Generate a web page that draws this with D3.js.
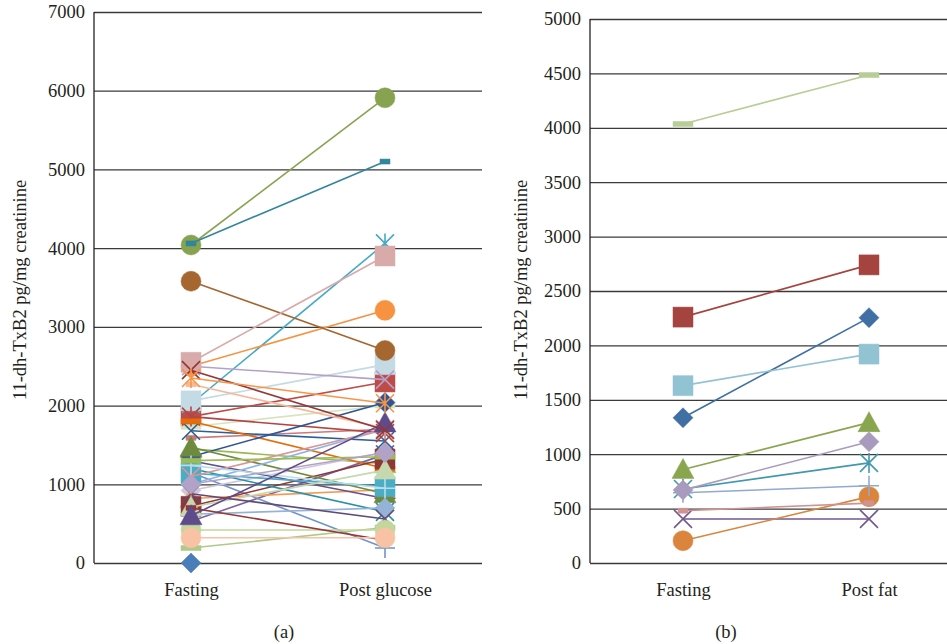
<!DOCTYPE html>
<html>
<head>
<meta charset="utf-8">
<script src="https://cdn.jsdelivr.net/npm/d3@7"></script>
<style>
  body { margin: 0; background: #fff; }
  text { font-family: "Liberation Serif", "DejaVu Serif", serif; fill: #231f20; }
</style>
</head>
<body>
<svg id="chart" width="947" height="644"></svg>
<script>
// ---- panel (a): fasting vs post glucose ----
const categoriesA = ["Fasting", "Post glucose"];
const fastingA = [0, 1860, 1450, 530, 2020, 2500, 1150, 1590, 1730, 920,
                  2060, 820, 1680, 1860, 4040, 1300, 4060, 1800, 1350, 720,
                  1470, 2500, 1200, 3580, 1000, 2270, 190, 620, 1140, 710,
                  880, 1100, 420, 1240, 700, 1300, 1000, 2550, 600, 2450,
                  2350, 320];
const postA = [null, 2300, 1260, 1380, 4060, 3210, 190, 1700, 2000, 1410,
               2520, 930, 1550, 1650, 5910, 820, 5100, 1200, 2040, 1320,
               880, 2330, 650, 2700, 1700, 1710, 450, 700, 970, 1180,
               560, 1700, 420, 950, 290, 1350, 1400, 3900, 1780, 1690,
               2030, 320];
const ticksA = [0, 1000, 2000, 3000, 4000, 5000, 6000, 7000];

// ---- panel (b): fasting vs post fat ----
const categoriesB = ["Fasting", "Post fat"];
const fastingB = [1335, 2260, 860, 405, 680, 205, 645, 480, 4035, 670, 1630];
const postB = [2255, 2740, 1290, 405, 920, 610, 710, 550, 4485, 1115, 1920];
const ticksB = [0, 500, 1000, 1500, 2000, 2500, 3000, 3500, 4000, 4500, 5000];

const yTitle = "11-dh-TxB2 pg/mg creatinine";

// Excel style marker cycle, colours per series
const markerCycle = ["diamond", "square", "triangle", "x", "star", "circle", "plus", "dash", "longdash"];
const coloursA = ["#4a7ebb", "#be4b48", "#98b954", "#7d60a0", "#46aac5", "#f69240", "#7094c8", "#cc7a78", "#d7e4bd",
                  "#cdc6dd", "#c4dae4", "#f59a52", "#2c5e97", "#b34643", "#87a34f", "#64508a", "#31859c", "#e46c0a",
                  "#2f5597", "#8c3836", "#6e8b3d", "#b3a2c7", "#2b8fa8", "#a5672f", "#8eb4e3", "#f6b89a", "#aec98a",
                  "#95b3d7", "#4bacc6", "#c6d8ae", "#604a7b", "#d99694", "#c3d69b", "#b7dee8", "#953735", "#9bbb59",
                  "#b3a2c7", "#d8aaa9", "#5f4b8b", "#953735", "#f79646", "#f8c2a5"];
const coloursB = ["#3f6fa3", "#a5443f", "#89a54e", "#71588f", "#4198af", "#db843d", "#93a9cf", "#d19392", "#b9cd96",
                  "#a99bbd", "#92c3d3"];

const svg = d3.select("#chart");
const baseY = 563;

function markerPath(type) {
  const p = d3.path();
  if (type === "diamond") { p.moveTo(0, -10); p.lineTo(10, 0); p.lineTo(0, 10); p.lineTo(-10, 0); p.closePath(); }
  else if (type === "square") { p.rect(-10, -10, 20, 20); }
  else if (type === "triangle") { p.moveTo(0, -11); p.lineTo(11, 9); p.lineTo(-11, 9); p.closePath(); }
  else if (type === "circle") { p.arc(0, 0, 10, 0, 2 * Math.PI); }
  else if (type === "dash") { p.rect(-5, -2.5, 10, 5); }
  else if (type === "longdash") { p.rect(-10, -2.5, 20, 5); }
  else if (type === "x") { p.moveTo(-9, -9); p.lineTo(9, 9); p.moveTo(9, -9); p.lineTo(-9, 9); }
  else if (type === "star") { p.moveTo(-9, -9); p.lineTo(9, 9); p.moveTo(9, -9); p.lineTo(-9, 9); p.moveTo(0, -10); p.lineTo(0, 10); }
  else if (type === "plus") { p.moveTo(0, -10); p.lineTo(0, 10); p.moveTo(-10, 0); p.lineTo(10, 0); }
  return p.toString();
}
const stroked = t => t === "x" || t === "star" || t === "plus";

function drawPanel(o) {
  const x = d3.scalePoint().domain(o.categories).range([o.left, o.right]).padding(0.5);
  const y = d3.scaleLinear().domain([0, o.max]).range([baseY, o.top]);
  const g = svg.append("g");

  // gridlines + tick labels
  g.append("g")
    .attr("transform", `translate(${o.left},0)`)
    .call(d3.axisLeft(y).tickValues(o.ticks).tickSize(-(o.right - o.left)).tickPadding(9).tickFormat(d3.format("d")))
    .call(a => a.select(".domain").remove())
    .call(a => a.selectAll("line").attr("stroke", "#3a3a3a").attr("stroke-width", 1.3))
    .call(a => a.selectAll("text").attr("font-size", 18.5).attr("font-family", null).attr("fill", null));

  // vertical axis line
  g.append("line")
    .attr("x1", o.left).attr("x2", o.left)
    .attr("y1", o.top).attr("y2", baseY)
    .attr("stroke", "#222").attr("stroke-width", 1.3);

  // category labels
  g.append("g")
    .attr("transform", `translate(0,${baseY})`)
    .call(d3.axisBottom(x).tickSize(0).tickPadding(20))
    .call(a => a.select(".domain").remove())
    .call(a => a.selectAll("text").attr("font-size", 18.5).attr("font-family", null).attr("fill", null));

  // y title
  g.append("text")
    .attr("transform", `translate(${o.titleX},${o.titleY}) rotate(-90)`)
    .attr("text-anchor", "middle")
    .attr("dy", "0.35em")
    .attr("font-size", 18.5)
    .text(yTitle);

  // panel letter
  g.append("text")
    .attr("x", o.letterX).attr("y", 638)
    .attr("text-anchor", "middle")
    .attr("font-size", 18.5)
    .text(o.letter);

  const line = d3.line().x(d => x(d.c)).y(d => y(d.v));

  o.fasting.forEach((f, i) => {
    const pts = [f, o.post[i]]
      .map((v, j) => ({ c: o.categories[j], v: v }))
      .filter(d => d.v != null);
    const col = o.colours[i];
    const type = markerCycle[i % markerCycle.length];
    const s = g.append("g");
    s.append("path").datum(pts)
      .attr("d", line)
      .attr("fill", "none")
      .attr("stroke", col)
      .attr("stroke-width", 1.6);
    s.selectAll(null).data(pts).enter().append("path")
      .attr("transform", d => `translate(${x(d.c)},${y(d.v)})`)
      .attr("d", markerPath(type))
      .attr("fill", stroked(type) ? "none" : col)
      .attr("stroke", col)
      .attr("stroke-width", stroked(type) ? 1.6 : 0.5);
  });
}

drawPanel({
  categories: categoriesA, fasting: fastingA, post: postA, colours: coloursA,
  ticks: ticksA, max: 7000, left: 94, right: 482, top: 12,
  titleX: 20, titleY: 290, letter: "(a)", letterX: 284
});

drawPanel({
  categories: categoriesB, fasting: fastingB, post: postB, colours: coloursB,
  ticks: ticksB, max: 5000, left: 590, right: 962, top: 19,
  titleX: 521, titleY: 290, letter: "(b)", letterX: 726
});
</script>
</body>
</html>
